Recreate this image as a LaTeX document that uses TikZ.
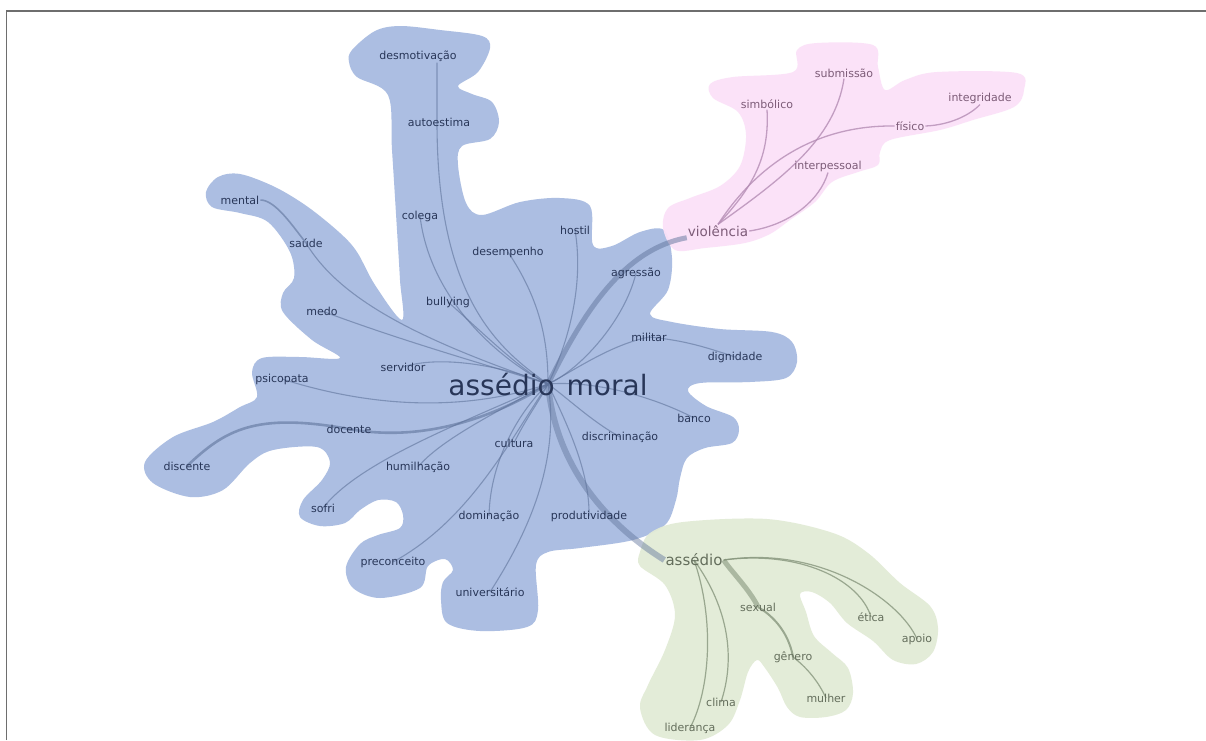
\documentclass[tikz,border=0pt]{standalone}
\usepackage{fontspec}
\setmainfont{DejaVu Sans}
\pgfdeclarelayer{bg}
\pgfdeclarelayer{edges}
\pgfsetlayers{bg,edges,main}
\definecolor{bfill}{RGB}{172,190,226}
\definecolor{pfill}{RGB}{251,225,248}
\definecolor{gfill}{RGB}{226,235,214}
\definecolor{btxt}{RGB}{40,54,88}
\definecolor{ptxt}{RGB}{125,92,120}
\definecolor{gtxt}{RGB}{100,110,92}
\definecolor{bline}{RGB}{95,115,155}
\definecolor{pline}{RGB}{180,140,180}
\definecolor{gline}{RGB}{135,150,125}
\definecolor{framec}{RGB}{110,110,110}
\begin{document}
\begin{tikzpicture}[x=1pt,y=-1pt,
  blbl/.style={font=\fontsize{11}{13}\selectfont, text=btxt, inner sep=1pt},
  plbl/.style={font=\fontsize{11}{13}\selectfont, text=ptxt, inner sep=1pt},
  glbl/.style={font=\fontsize{11}{13}\selectfont, text=gtxt, inner sep=1pt},
  bedge/.style={draw=bline, line width=1.1pt, opacity=0.6},
  pedge/.style={draw=pline, line width=1.3pt, opacity=0.8},
  gedge/.style={draw=gline, line width=1.2pt, opacity=0.8}
]
\useasboundingbox (0,0) rectangle (1206,740);

% ---------- labels ----------
\node[font=\fontsize{28}{30}\selectfont, text=btxt, inner sep=0pt] (am) at (548,384) {assédio\hspace{12pt}moral};
\node[blbl] (desmot) at (418,56) {desmotivação};
\node[blbl] (autoest) at (439,122) {autoestima};
\node[blbl] (mental) at (240,200) {mental};
\node[blbl] (saude) at (306,243) {saúde};
\node[blbl] (colega) at (420,216) {colega};
\node[blbl] (desemp) at (508,252) {desempenho};
\node[blbl] (hostil) at (575,230) {hostil};
\node[blbl] (agress) at (636,273) {agressão};
\node[blbl] (bully) at (448,302) {bullying};
\node[blbl] (medo) at (322,311) {medo};
\node[blbl] (militar) at (649,337) {militar};
\node[blbl] (dign) at (735,357) {dignidade};
\node[blbl] (servidor) at (403,367) {servidor};
\node[blbl] (psico) at (282,379) {psicopata};
\node[blbl] (banco) at (694,418) {banco};
\node[blbl] (docente) at (349,429) {docente};
\node[blbl] (discrim) at (620,437) {discriminação};
\node[blbl] (cultura) at (514,443) {cultura};
\node[blbl] (discente) at (187,466) {discente};
\node[blbl] (humil) at (418,467) {humilhação};
\node[blbl] (sofri) at (323,508) {sofri};
\node[blbl] (domin) at (489,516) {dominação};
\node[blbl] (produt) at (589,516) {produtividade};
\node[blbl] (precon) at (393,562) {preconceito};
\node[blbl] (univ) at (490,592) {universitário};

\node[plbl] (subm) at (844,73) {submissão};
\node[plbl] (integr) at (980,98) {integridade};
\node[plbl] (simb) at (767,104) {simbólico};
\node[plbl] (fisico) at (910,126) {físico};
\node[plbl] (interp) at (828,166) {interpessoal};
\node[plbl, font=\fontsize{13.5}{15}\selectfont] (viol) at (718,231) {violência};

\node[glbl, font=\fontsize{15}{17}\selectfont] (gass) at (694,560) {assédio};
\node[glbl] (sexual) at (758,607) {sexual};
\node[glbl] (etica) at (871,617) {ética};
\node[glbl] (apoio) at (917,639) {apoio};
\node[glbl] (genero) at (793,657) {gênero};
\node[glbl] (mulher) at (826,698) {mulher};
\node[glbl] (clima) at (721,702) {clima};
\node[glbl] (lider) at (690,728) {liderança};

% ---------- regions ----------
\begin{pgfonlayer}{bg}
\fill[white] (0,0) rectangle (1206,740);
\fill[bfill] plot[smooth cycle, tension=0.55] coordinates {
 (352,50) (375,31) (400,26) (440,30) (482,36) (490,48) (478,72) (458,86)
 (472,94) (492,102) (499,122) (490,139) (462,146) (458,165) (466,203)
 (482,215) (520,202) (560,198) (590,206) (593,245) (612,246) (640,232)
 (664,230) (672,258) (668,290) (650,314) (672,322) (720,329) (772,332)
 (792,342) (797,362) (786,378) (750,382) (700,383) (688,391) (706,406)
 (733,417) (739,430) (732,443) (705,448) (687,458) (680,478) (676,500)
 (665,525) (633,540) (580,548) (548,552) (536,565) (538,610) (527,627)
 (480,631) (447,623) (441,600) (443,582) (453,570) (445,559) (428,566)
 (420,588) (380,598) (353,588) (346,567) (360,544) (378,535) (400,528)
 (403,515) (396,502) (378,500) (360,510) (345,523) (320,526) (300,517)
 (303,500) (322,480) (330,462) (317,447) (273,450) (250,463) (223,490)
 (190,497) (153,483) (145,462) (173,437) (213,422) (240,407) (257,397)
 (252,372) (262,358) (300,357) (340,358) (312,340) (283,312) (283,293)
 (294,278) (290,252) (268,222) (240,213) (212,207) (206,192) (218,177)
 (240,174) (275,187) (308,207) (340,233) (357,252) (375,285) (402,320)
 (400,280) (397,230) (392,150) (388,95) (357,77) (349,62)};
\fill[pfill, opacity=0.95] plot[smooth cycle, tension=0.55] coordinates {
 (663,228) (668,208) (690,198) (720,186) (740,166) (746,135) (738,112)
 (713,98) (710,84) (733,77) (793,72) (797,50) (817,43) (873,45) (878,67)
 (885,90) (905,80) (937,72) (1017,73) (1024,90) (1014,107) (973,120)
 (940,130) (890,140) (880,152) (878,165) (858,172) (832,182) (815,202)
 (790,220) (770,234) (745,243) (705,248) (675,250)};
\fill[gfill, opacity=0.95] plot[smooth cycle, tension=0.55] coordinates {
 (640,552) (650,533) (683,522) (767,519) (833,533) (868,553) (900,583)
 (930,606) (938,628) (933,652) (916,664) (893,660) (873,641) (847,623)
 (830,603) (812,592) (800,594) (806,612) (814,636) (832,653) (848,668)
 (853,693) (846,710) (826,717) (800,717) (787,707) (778,688) (765,668)
 (757,660) (748,672) (740,700) (728,725) (700,740) (655,735) (640,708)
 (648,685) (665,650) (675,615) (665,585) (640,566)};
\draw[framec, line width=1.6pt] (6.5,740) -- (6.5,11) -- (1206,11);
\end{pgfonlayer}

% ---------- edges ----------
\begin{pgfonlayer}{edges}
\draw[bedge] ([xshift=19pt]desmot.south) -- ([xshift=-2pt]autoest.center)
  .. controls (437,300) and (500,350) .. (am.center);
\draw[bedge] (colega.center) .. controls (430,300) and (500,360) .. (am.center);
\draw[bedge] (bully.center) .. controls (480,330) and (520,370) .. (am.center);
\draw[bedge] (desemp.center) .. controls (540,300) and (548,340) .. (am.center);
\draw[bedge] (hostil.center) .. controls (585,290) and (565,350) .. (am.center);
\draw[bedge] (agress.center) .. controls (625,320) and (580,370) .. (am.center);
\draw[bedge, line width=1.6pt] (mental.east) .. controls (275,200) and (292,225) .. (saude.center);
\draw[bedge] (saude.center) .. controls (340,300) and (420,340) .. (am.center);
\draw[bedge] (medo.center) .. controls (400,340) and (470,360) .. (am.center);
\draw[bedge] (servidor.center) .. controls (440,355) and (500,365) .. (am.center);
\draw[bedge] (psico.center) .. controls (380,410) and (470,410) .. (am.center);
\draw[bedge, line width=2.6pt] (discente.center) .. controls (225,430) and (255,412) .. (docente.center)
  .. controls (420,442) and (490,420) .. (am.center);
\draw[bedge] (humil.center) .. controls (440,440) and (500,410) .. (am.center);
\draw[bedge] (sofri.center) .. controls (360,460) and (470,420) .. (am.center);
\draw[bedge] (cultura.center) .. controls (525,420) and (540,400) .. (am.center);
\draw[bedge] (domin.center) .. controls (490,460) and (520,410) .. (am.center);
\draw[bedge] (precon.center) .. controls (470,520) and (510,440) .. (am.center);
\draw[bedge] (univ.center) .. controls (530,530) and (560,460) .. (am.center);
\draw[bedge] (produt.center) .. controls (590,470) and (565,420) .. (am.center);
\draw[bedge] (discrim.center) .. controls (590,420) and (570,400) .. (am.center);
\draw[bedge] (banco.center) .. controls (660,400) and (600,380) .. (am.center);
\draw[bedge] (militar.center) .. controls (610,345) and (575,370) .. (am.center);
\draw[bedge] (militar.center) .. controls (680,340) and (700,345) .. (dign.center);
\draw[bedge, line width=5pt, opacity=0.5] (am.center) .. controls (580,320) and (620,250) .. (viol.south west);
\draw[bedge, line width=6pt, opacity=0.45] (am.center) .. controls (555,460) and (600,520) .. (gass.west);

\draw[pedge] (viol.north) .. controls (750,190) and (770,160) .. (simb.south);
\draw[pedge] (viol.north) .. controls (780,180) and (835,140) .. (subm.south);
\draw[pedge] (viol.north) .. controls (760,160) and (820,125) .. (fisico.west);
\draw[pedge] (fisico.east) .. controls (950,125) and (970,115) .. (integr.south);
\draw[pedge] (viol.east) .. controls (790,225) and (820,200) .. (interp.south);

\draw[gedge, line width=5pt, opacity=0.6] (gass.east) .. controls (730,570) and (750,590) .. (sexual.center);
\draw[gedge, line width=2pt] (sexual.center) .. controls (780,620) and (790,640) .. (genero.center);
\draw[gedge] (genero.center) .. controls (810,670) and (820,685) .. (mulher.center);
\draw[gedge] (gass.east) .. controls (800,550) and (860,580) .. (etica.center);
\draw[gedge] (gass.east) .. controls (820,545) and (900,600) .. (apoio.center);
\draw[gedge] (gass.center) .. controls (730,610) and (735,660) .. (clima.center);
\draw[gedge] (gass.center) .. controls (715,620) and (710,690) .. (lider.center);
\end{pgfonlayer}
\end{tikzpicture}
\end{document}
